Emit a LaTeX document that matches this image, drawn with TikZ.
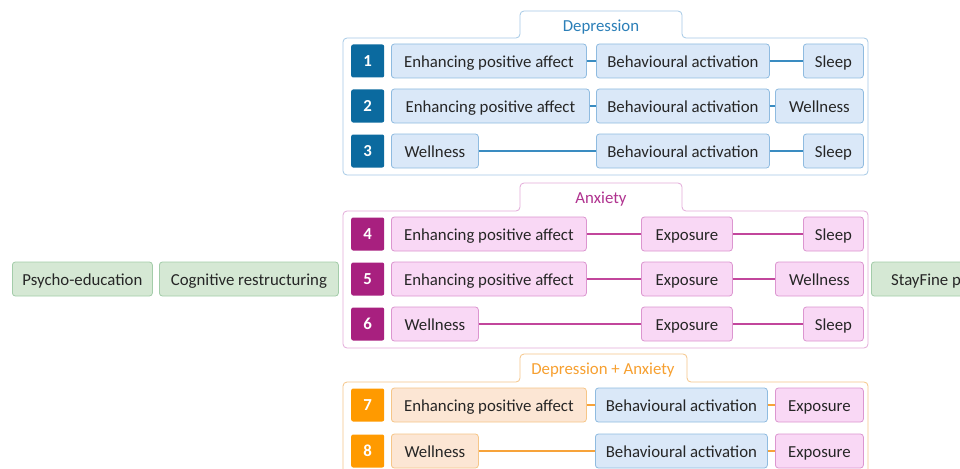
\documentclass[tikz,border=0pt]{standalone}
\usepackage{fontspec}
\setmainfont{Carlito}
\definecolor{depdark}{HTML}{0B6A9F}
\definecolor{depfill}{HTML}{DAE8F8}
\definecolor{depedge}{HTML}{8FBBE0}
\definecolor{depline}{HTML}{3A8CC1}
\definecolor{deptext}{HTML}{2B7FB8}
\definecolor{anxdark}{HTML}{A8207F}
\definecolor{anxfill}{HTML}{F9D8F5}
\definecolor{anxedge}{HTML}{DC96D0}
\definecolor{anxline}{HTML}{C2469C}
\definecolor{anxtext}{HTML}{B0328F}
\definecolor{botdark}{HTML}{FF9A00}
\definecolor{botfill}{HTML}{FCE6D4}
\definecolor{botedge}{HTML}{F6C688}
\definecolor{botline}{HTML}{F7A33A}
\definecolor{bottext}{HTML}{F7A030}
\definecolor{grnfill}{HTML}{D5E8D4}
\definecolor{grnedge}{HTML}{A3CCA9}
\tikzset{
  item/.style={draw, rounded corners=3pt, minimum height=34pt, inner sep=0pt,
    text height=15pt, text depth=2pt,
    anchor=west, line width=0.8pt, font=\fontsize{16.8}{19}\selectfont, text=black!85},
  depbox/.style={item, fill=depfill, draw=depedge},
  anxbox/.style={item, fill=anxfill, draw=anxedge},
  botbox/.style={item, fill=botfill, draw=botedge},
  grnbox/.style={item, fill=grnfill, draw=grnedge},
  numbox/.style={rounded corners=2pt, minimum width=33pt, minimum height=33pt, inner sep=0pt,
    anchor=west, text=white, font=\fontsize{16.8}{19}\selectfont\bfseries},
  frame/.style={rounded corners=4pt, line width=0.8pt, fill=white},
  tablabel/.style={font=\fontsize{16.8}{19}\selectfont, text height=15pt, text depth=2pt},
  link/.style={line width=1.3pt}
}
\begin{document}
\begin{tikzpicture}[x=1pt, y=-1pt]
\useasboundingbox[fill=white] (0,0) rectangle (960,468);

% group frames with tabs
\draw[frame, draw=depedge!80] (343,38) -- (520,38) -- (520,11) -- (682,11) -- (682,38)
  -- (868,38) -- (868,175) -- (343,175) -- cycle;
\node[tablabel, text=deptext] (tabdep) at (601,25) {Depression};
\draw[frame, draw=anxedge!80] (343,211) -- (520,211) -- (520,183) -- (682,183) -- (682,211)
  -- (868,211) -- (868,348) -- (343,348) -- cycle;
\node[tablabel, text=anxtext] (tabanx) at (601,197) {Anxiety};
\draw[frame, draw=botedge] (343,382) -- (520,382) -- (520,354) -- (687,354) -- (687,382)
  -- (868,382) -- (868,490) -- (343,490) -- cycle;
\node[tablabel, text=bottext] (tabbot) at (603,368) {Depression + Anxiety};

% number boxes
\foreach \n/\y in {1/61,2/106,3/151}
  \node[numbox, fill=depdark] (n\n) at (351,\y) {\n};
\foreach \n/\y in {4/234,5/279,6/324}
  \node[numbox, fill=anxdark] (n\n) at (351,\y) {\n};
\foreach \n/\y in {7/405,8/451}
  \node[numbox, fill=botdark] (n\n) at (351,\y) {\n};

% Depression
\node[depbox, minimum width=195pt] (a1) at (391,61) {Enhancing positive affect};
\node[depbox, minimum width=173pt] (b1) at (596,61) {Behavioural activation};
\node[depbox, minimum width=60pt] (c1) at (803,61) {Sleep};
\node[depbox, minimum width=198pt] (a2) at (391,106) {Enhancing positive affect};
\node[depbox, minimum width=173pt] (b2) at (596,106) {Behavioural activation};
\node[depbox, minimum width=88pt] (c2) at (775,106) {Wellness};
\node[depbox, minimum width=87pt] (a3) at (391,151) {Wellness};
\node[depbox, minimum width=173pt] (b3) at (596,151) {Behavioural activation};
\node[depbox, minimum width=60pt] (c3) at (803,151) {Sleep};

% Anxiety
\node[anxbox, minimum width=195pt] (a4) at (391,234) {Enhancing positive affect};
\node[anxbox, minimum width=91pt] (b4) at (641,234) {Exposure};
\node[anxbox, minimum width=60pt] (c4) at (803,234) {Sleep};
\node[anxbox, minimum width=195pt] (a5) at (391,279) {Enhancing positive affect};
\node[anxbox, minimum width=91pt] (b5) at (641,279) {Exposure};
\node[anxbox, minimum width=88pt] (c5) at (775,279) {Wellness};
\node[anxbox, minimum width=87pt] (a6) at (391,324) {Wellness};
\node[anxbox, minimum width=91pt] (b6) at (641,324) {Exposure};
\node[anxbox, minimum width=60pt] (c6) at (803,324) {Sleep};

% Depression + Anxiety
\node[botbox, minimum width=195pt] (a7) at (391,405) {Enhancing positive affect};
\node[depbox, minimum width=172pt] (b7) at (595,405) {Behavioural activation};
\node[anxbox, minimum width=88pt] (c7) at (775,405) {Exposure};
\node[botbox, minimum width=87pt] (a8) at (391,451) {Wellness};
\node[depbox, minimum width=172pt] (b8) at (595,451) {Behavioural activation};
\node[anxbox, minimum width=88pt] (c8) at (775,451) {Exposure};

% common modules
\node[grnbox, minimum width=140pt] (psy) at (12,279) {Psycho-education};
\node[grnbox, minimum width=179pt] (cog) at (159,279) {Cognitive restructuring};
\node[grnbox, minimum width=130pt] (stay) at (871,279) {StayFine plan};

% links
\foreach \r in {1,2,3}
  \draw[link, depline] (a\r) -- (b\r) (b\r) -- (c\r);
\foreach \r in {4,5,6}
  \draw[link, anxline] (a\r) -- (b\r) (b\r) -- (c\r);
\foreach \r in {7,8}
  \draw[link, botline] (a\r) -- (b\r) (b\r) -- (c\r);
\end{tikzpicture}
\end{document}
